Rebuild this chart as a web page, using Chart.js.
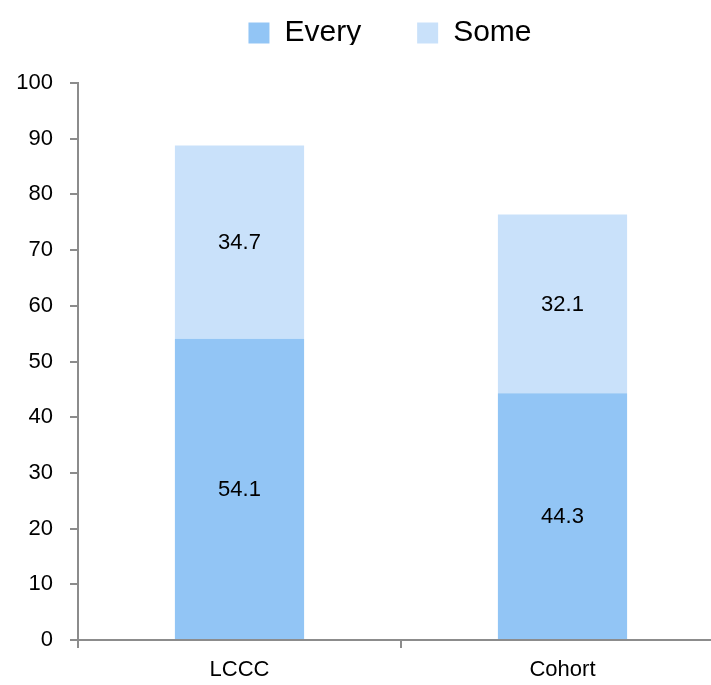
<!DOCTYPE html>
<html>
<head>
<meta charset="utf-8">
<script src="https://cdn.jsdelivr.net/npm/chart.js@4.4.1/dist/chart.umd.min.js"></script>
<style>
  html, body { margin: 0; padding: 0; background: #fff; overflow: hidden; }
  #wrap { width: 776px; height: 685px; }
</style>
</head>
<body>
<div id="wrap"><canvas id="chart" width="776" height="685"></canvas></div>
<script>
const categories = ['LCCC', 'Cohort'];
const everyValues = [54.1, 44.3];
const someValues = [34.7, 32.1];
const yTicks = [0, 10, 20, 30, 40, 50, 60, 70, 80, 90, 100];

const AXIS_COLOR = '#8c8c8c';
const FONT = '"Liberation Sans", Arial, sans-serif';

// draws the value in the middle of each bar segment
const barLabels = {
    id: 'barLabels',
    afterDatasetsDraw(chart) {
        const ctx = chart.ctx;
        ctx.save();
        ctx.font = `22px ${FONT}`;
        ctx.fillStyle = '#000';
        ctx.textAlign = 'center';
        ctx.textBaseline = 'middle';
        chart.data.datasets.forEach((ds, i) => {
            chart.getDatasetMeta(i).data.forEach((bar, j) => {
                const p = bar.getCenterPoint();
                ctx.fillText(ds.data[j].toFixed(1), p.x, p.y + 1);
            });
        });
        ctx.restore();
    },
};

// legend sits over the whole picture, not only the plot area
const legendShift = {
    id: 'legendShift',
    beforeInit(chart) {
        const fit = chart.legend.fit;
        chart.legend.fit = function () {
            fit.bind(chart.legend)();
            this.height = 83;
        };
    },
    afterLayout(chart) {
        chart.legend.left += 28;
        chart.legend.right += 28;
        chart.legend.top -= 38;
        chart.legend.bottom -= 38;
    },
};

new Chart(document.getElementById('chart'), {
    type: 'bar',
    data: {
        labels: categories,
        datasets: [
            { label: 'Every', data: everyValues, backgroundColor: '#92c5f5' },
            { label: 'Some', data: someValues, backgroundColor: '#c9e1fa' },
        ],
    },
    options: {
        responsive: false,
        animation: false,
        devicePixelRatio: 1,
        layout: { padding: { left: 0, right: 52, top: 0, bottom: 0 } },
        datasets: { bar: { categoryPercentage: 1, barPercentage: 0.4 } },
        scales: {
            x: {
                stacked: true,
                border: { color: AXIS_COLOR, width: 2 },
                grid: { drawOnChartArea: false, drawTicks: true, tickLength: 8, color: AXIS_COLOR, lineWidth: 2 },
                ticks: { color: '#000', font: { family: FONT, size: 22 }, padding: 9 },
                afterFit(scale) { scale.height = 45; },
            },
            y: {
                stacked: true,
                min: 0,
                max: 100,
                border: { color: AXIS_COLOR, width: 2 },
                grid: { drawOnChartArea: false, drawTicks: true, tickLength: 8, color: AXIS_COLOR, lineWidth: 2 },
                afterBuildTicks(scale) { scale.ticks = yTicks.map((v) => ({ value: v })); },
                ticks: { color: '#000', font: { family: FONT, size: 22 }, padding: 17 },
                afterFit(scale) { scale.width = 78; },
            },
        },
        plugins: {
            legend: {
                position: 'top',
                labels: {
                    color: '#000',
                    font: { family: FONT, size: 30 },
                    boxWidth: 21,
                    boxHeight: 21,
                    padding: 56,
                },
            },
            tooltip: { enabled: false },
        },
    },
    plugins: [barLabels, legendShift],
});
</script>
</body>
</html>
